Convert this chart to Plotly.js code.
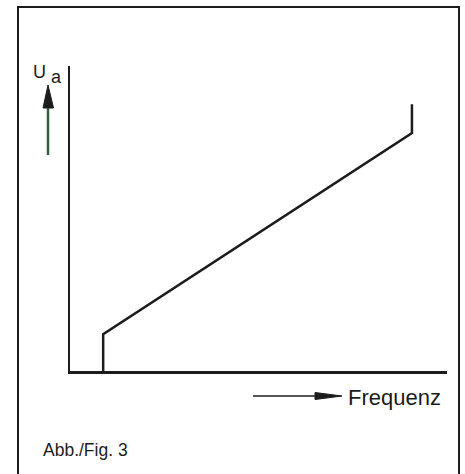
<!DOCTYPE html>
<html>
<head>
<meta charset="utf-8">
<script src="https://cdn.plot.ly/plotly-3.0.1.min.js"></script>
<style>html,body{margin:0;padding:0;background:#fff;}#chart{width:465px;height:474px;}</style>
</head>
<body>
<div id="chart"></div>
<script>
// Data (arbitrary units): output voltage Ua vs frequency
const frequenz = [8.8, 8.8, 90.7, 90.7];
const ua = [0, 12.1, 78.0, 87.5];
const yLabelMain = 'U';
const yLabelSub = 'a';
const xLabel = 'Frequenz';
const caption = 'Abb./Fig. 3';

// pixel -> paper helpers (plot area: x 70..447, y 66..371)
const L = 70, R = 447, T = 66, B = 371;
const px = v => (v - L) / (R - L);
const py = v => (B - v) / (B - T);
const ink = '#1c1c1c';
const fam = 'Liberation Sans, Arial, sans-serif';

const shapes = [
  // outer frame (no bottom edge)
  {type:'path', xref:'paper', yref:'paper',
   path:`M ${px(18)} ${py(480)} L ${px(18)} ${py(7)} L ${px(459)} ${py(7)} L ${px(459)} ${py(480)}`,
   line:{color:ink, width:2}},
  // Ua arrow shaft (green)
  {type:'line', xref:'paper', yref:'paper', x0:px(48), x1:px(48), y0:py(155), y1:py(106),
   line:{color:'#2f5f40', width:2.5}},
  // Ua arrow head
  {type:'path', xref:'paper', yref:'paper',
   path:`M ${px(48)} ${py(85)} L ${px(43)} ${py(108)} L ${px(53.5)} ${py(108)} Z`,
   fillcolor:ink, line:{color:ink, width:1}},
  // Frequenz arrow shaft
  {type:'line', xref:'paper', yref:'paper', x0:px(253), x1:px(318), y0:py(396), y1:py(396),
   line:{color:ink, width:1.5}},
  // Frequenz arrow head
  {type:'path', xref:'paper', yref:'paper',
   path:`M ${px(342)} ${py(396)} L ${px(315)} ${py(392.5)} L ${px(315)} ${py(399.5)} Z`,
   fillcolor:ink, line:{color:ink, width:1}}
];

const annotations = [
  {xref:'paper', yref:'paper', x:px(31), y:py(72.5), xanchor:'left', yanchor:'middle',
   text:yLabelMain, showarrow:false, font:{family:fam, size:18, color:ink}},
  {xref:'paper', yref:'paper', x:px(49), y:py(76.5), xanchor:'left', yanchor:'middle',
   text:yLabelSub, showarrow:false, font:{family:fam, size:18, color:ink}},
  {xref:'paper', yref:'paper', x:px(346), y:py(397), xanchor:'left', yanchor:'middle',
   text:xLabel, showarrow:false, font:{family:fam, size:22, color:ink}},
  {xref:'paper', yref:'paper', x:px(41), y:py(450), xanchor:'left', yanchor:'middle',
   text:caption, showarrow:false, font:{family:fam, size:17.5, color:ink}}
];

Plotly.newPlot('chart', [{
  x: frequenz, y: ua, type:'scatter', mode:'lines',
  line:{color:ink, width:2.5}, hoverinfo:'skip'
}], {
  width:465, height:474,
  margin:{l:L, r:465-R, t:T, b:474-B},
  paper_bgcolor:'#fff', plot_bgcolor:'#fff',
  showlegend:false,
  xaxis:{range:[0,100], showgrid:false, zeroline:false, showticklabels:false, ticks:'',
         showline:true, linecolor:ink, linewidth:2.5, fixedrange:true},
  yaxis:{range:[0,100], showgrid:false, zeroline:false, showticklabels:false, ticks:'',
         showline:true, linecolor:ink, linewidth:2.5, fixedrange:true},
  shapes: shapes,
  annotations: annotations
}, {displayModeBar:false, staticPlot:true});
</script>
</body>
</html>
